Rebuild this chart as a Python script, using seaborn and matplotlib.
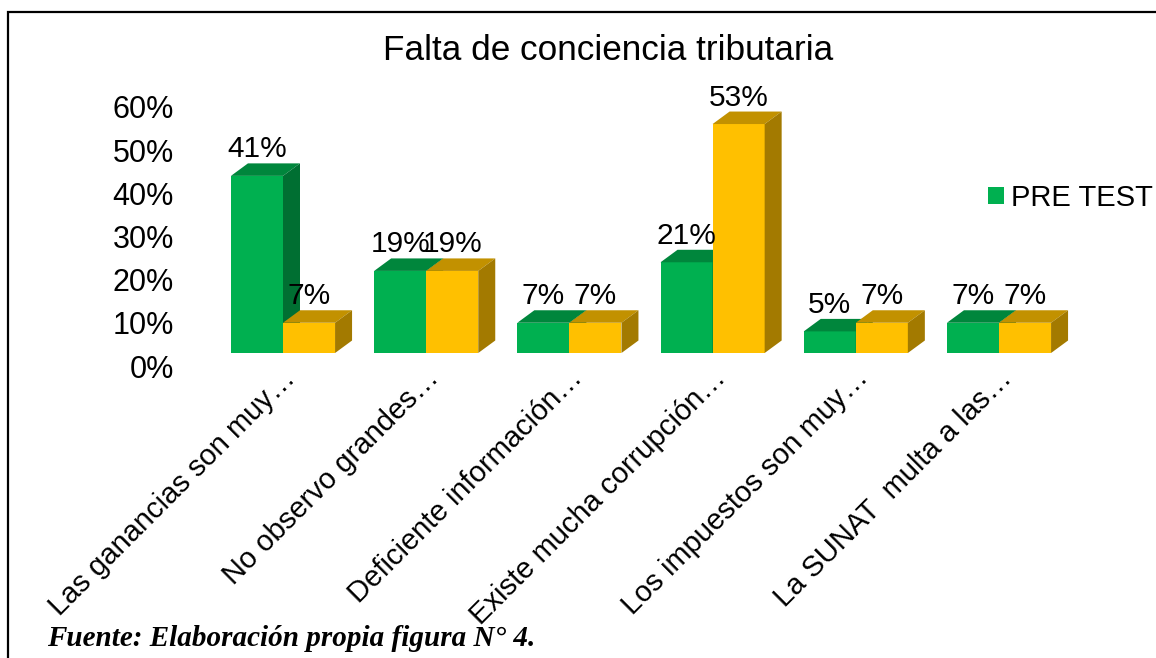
import numpy as np
import pandas as pd
import matplotlib
matplotlib.use("Agg")
import matplotlib.pyplot as plt
import matplotlib.transforms as mtransforms
from matplotlib.patches import Polygon, Patch, Rectangle
import seaborn as sns

# datos
categorias = ["Las ganancias son muy…", "No observo grandes…", "Deficiente información…",
              "Existe mucha corrupción…", "Los impuestos son muy…", "La SUNAT  multa a las…"]
pre_test = [0.41, 0.19, 0.07, 0.21, 0.05, 0.07]
post_test = [0.07, 0.19, 0.07, 0.53, 0.07, 0.07]
series = ["PRE TEST", "POST TEST"]
y_ticks = [0.0, 0.1, 0.2, 0.3, 0.4, 0.5, 0.6]

# colores: cara frontal, cara superior, cara lateral
col_front = ["#00B050", "#FFC000"]
col_top = ["#00863C", "#C29100"]
col_side = ["#006F32", "#A37A00"]

df = pd.DataFrame({
    "categoria": categorias * 2,
    "valor": pre_test + post_test,
    "serie": [series[0]] * len(categorias) + [series[1]] * len(categorias),
})

sns.set_theme(style="white")
plt.rcParams["font.family"] = ["Liberation Sans", "DejaVu Sans"]
plt.rcParams["text.color"] = "black"
plt.rcParams["xtick.color"] = "black"
plt.rcParams["ytick.color"] = "black"

W, H = 1156, 658
fig = plt.figure(figsize=(W / 100, H / 100), dpi=100)
ax = fig.add_axes([211.4 / W, (H - 353) / H, 859.2 / W, 259.2 / H])

sns.barplot(data=df, x="categoria", y="valor", hue="serie", palette=col_front,
            width=0.727, saturation=1, dodge=True, legend=False, ax=ax)
ax.set_xlim(-0.5, len(categorias) - 0.5)
ax.set_ylim(0, 0.6)

# profundidad 3D (unidades de datos)
DX = 17 / 143.2
DY = 12.5 / 432.0

bars = [p for p in ax.patches if isinstance(p, Rectangle)]
n = len(categorias)
for k, bar in enumerate(bars[:2 * n]):
    s = k // n
    x0 = bar.get_x()
    x1 = x0 + bar.get_width()
    h = bar.get_height()
    z = 1 + 2 * s
    bar.set_zorder(z)
    bar.set_edgecolor("none")
    bar.set_clip_on(False)
    top = Polygon([(x0, h), (x1, h), (x1 + DX, h + DY), (x0 + DX, h + DY)],
                  closed=True, facecolor=col_top[s], edgecolor="none", zorder=z + 0.5, clip_on=False)
    side = Polygon([(x1, 0), (x1 + DX, DY), (x1 + DX, h + DY), (x1, h)],
                   closed=True, facecolor=col_side[s], edgecolor="none", zorder=z + 0.5, clip_on=False)
    ax.add_patch(top)
    ax.add_patch(side)
    ax.text(x0 + bar.get_width() / 2, h + DY, f"{h * 100:.0f}%", ha="center", va="bottom",
            fontsize=21.5, color="black", zorder=10)

sns.despine(ax=ax, left=True, bottom=True)
ax.set_xlabel("")
ax.set_ylabel("")
ax.set_yticks(y_ticks)
ax.set_yticklabels([f"{t * 100:.0f}%" for t in y_ticks], fontsize=22)
ax.tick_params(axis="y", length=0, pad=27)
off = mtransforms.ScaledTranslation(0, -13 / 100, fig.dpi_scale_trans)
for lab in ax.get_yticklabels():
    lab.set_transform(lab.get_transform() + off)

ax.set_xticks(range(n))
ax.set_xticklabels(categorias, fontsize=21, rotation=45, ha="right", va="baseline",
                   rotation_mode="anchor")
ax.tick_params(axis="x", length=0, pad=19)
xoff = mtransforms.ScaledTranslation(14 / 100, 0, fig.dpi_scale_trans)
for lab in ax.get_xticklabels():
    lab.set_transform(lab.get_transform() + xoff)

fig.text(608 / W, 1 - 50 / H, "Falta de conciencia tributaria", ha="center", va="center",
         fontsize=25.3, color="black")

fig.legend(handles=[Patch(facecolor=col_front[0], edgecolor="none", label=series[0])],
           loc="center left", bbox_to_anchor=(988 / W, 1 - 198 / H), frameon=False,
           fontsize=21, handlelength=0.55, handleheight=0.55, handletextpad=0.25,
           borderpad=0, borderaxespad=0)

# marco del grafico
fig.add_artist(Rectangle((8 / W, -0.1), 1.2, 1 - 12 / H + 0.1, transform=fig.transFigure,
                         fill=False, edgecolor="black", linewidth=1.6))

fig.text(47 / W, 1 - 639 / H, "Fuente: Elaboración propia figura N° 4.", ha="left", va="center",
         fontsize=21, fontweight="bold", fontstyle="italic", color="black",
         family=["Liberation Serif", "DejaVu Serif"], zorder=20)

fig.savefig("out.png", dpi=100, facecolor="white")
